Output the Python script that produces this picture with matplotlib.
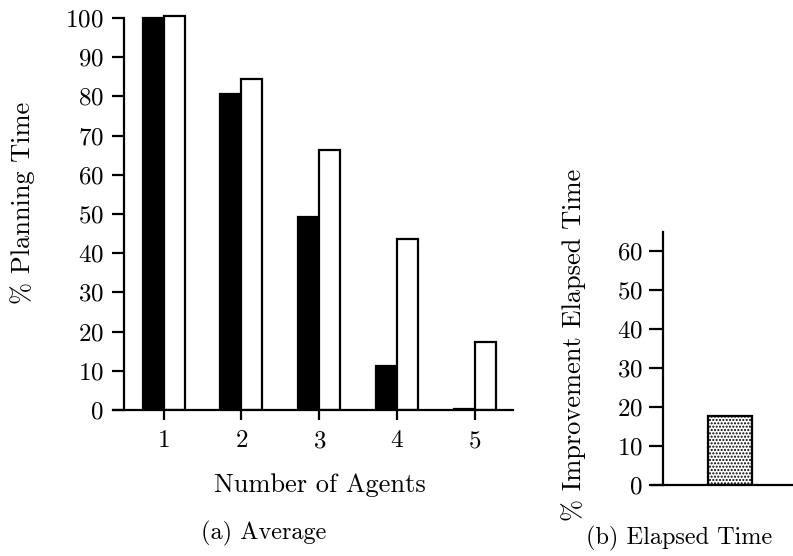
import matplotlib
matplotlib.use("Agg")
import matplotlib.pyplot as plt
import numpy as np

plt.rcParams['font.family'] = ['cmr10', 'DejaVu Serif']
plt.rcParams['mathtext.fontset'] = 'cm'
plt.rcParams['axes.formatter.use_mathtext'] = True
plt.rcParams['hatch.linewidth'] = 1.0
plt.rcParams['hatch.color'] = '#111111'

# Planning time by number of agents (percent of single-agent time)
agents = [1, 2, 3, 4, 5]
planning_black = [100.0, 80.5, 49.3, 11.3, 0.3]
planning_white = [100.5, 84.5, 66.2, 43.5, 17.3]
y_ticks_a = [0, 10, 20, 30, 40, 50, 60, 70, 80, 90, 100]

# Improvement in elapsed time
elapsed_improvement = [17.8]
y_ticks_b = [0, 10, 20, 30, 40, 50, 60]

W, H = 793, 556
fig = plt.figure(figsize=(W / 100, H / 100), dpi=100)

lw = 1.6
fs_tick = 18
fs_label = 19
fs_cap = 17.5
px = 0.72  # points per pixel at 100 dpi

# ---- (a) Average ----
ax_l, ax_r, ax_b, ax_t = 113, 513, 410, 14
ax = fig.add_axes([ax_l / W, 1 - ax_b / H, (ax_r - ax_l) / W, (ax_b - ax_t) / H])
bw = 0.27
x = np.array(agents, dtype=float)
ax.bar(x - bw / 2, planning_black, width=bw, color='black', edgecolor='black', linewidth=lw)
ax.bar(x + bw / 2, planning_white, width=bw, color='white', edgecolor='black', linewidth=lw)
ax.set_xlim(0.35, 5.49)
ax.set_ylim(0, 101)
for s in ['top', 'right']:
    ax.spines[s].set_visible(False)
ax.spines['left'].set_position(('data', 0.487))
ax.spines['left'].set_bounds(0, 100)
for s in ['left', 'bottom']:
    ax.spines[s].set_linewidth(lw)
ax.set_yticks(y_ticks_a)
ax.set_xticks(agents)
ax.tick_params(axis='y', direction='out', length=12 * px, width=lw, labelsize=fs_tick, pad=8 * px)
ax.tick_params(axis='x', direction='out', length=10 * px, width=lw, labelsize=fs_tick, pad=10 * px)
ax.set_xlabel('Number of Agents', fontsize=fs_label, va='center', ha='center')
ax.xaxis.set_label_coords((320 - ax_l) / (ax_r - ax_l), (ax_b - 485) / (ax_b - ax_t))
ax.set_ylabel('% Planning Time', fontsize=fs_label, va='center', ha='center')
ax.yaxis.set_label_coords((23 - ax_l) / (ax_r - ax_l), (ax_b - 203) / (ax_b - ax_t))
fig.text(264 / W, 1 - 533 / H, '(a) Average', fontsize=fs_cap, ha='center', va='center')

# ---- (b) Elapsed Time ----
bx_l, bx_r, bx_b, bx_t = 652, 793, 485, 231.7
bx = fig.add_axes([bx_l / W, 1 - bx_b / H, (bx_r - bx_l) / W, (bx_b - bx_t) / H])
bx.bar([0], elapsed_improvement, width=0.6, facecolor='white', edgecolor='black',
       linewidth=lw, hatch='.....')
bx.set_xlim(-1.064, 0.86)
bx.set_ylim(0, 65)
for s in ['top', 'right']:
    bx.spines[s].set_visible(False)
bx.spines['left'].set_position(('data', -0.914))
for s in ['left', 'bottom']:
    bx.spines[s].set_linewidth(lw)
bx.set_yticks(y_ticks_b)
bx.set_xticks([])
bx.tick_params(axis='y', direction='out', length=14 * px, width=lw, labelsize=fs_tick, pad=6 * px)
bx.set_ylabel('% Improvement Elapsed Time', fontsize=fs_label, va='center', ha='center')
bx.yaxis.set_label_coords((574 - bx_l) / (bx_r - bx_l), (bx_b - 345) / (bx_b - bx_t))
fig.text(679 / W, 1 - 538 / H, '(b) Elapsed Time', fontsize=fs_cap, ha='center', va='center')

fig.savefig('out.png', dpi=100)
